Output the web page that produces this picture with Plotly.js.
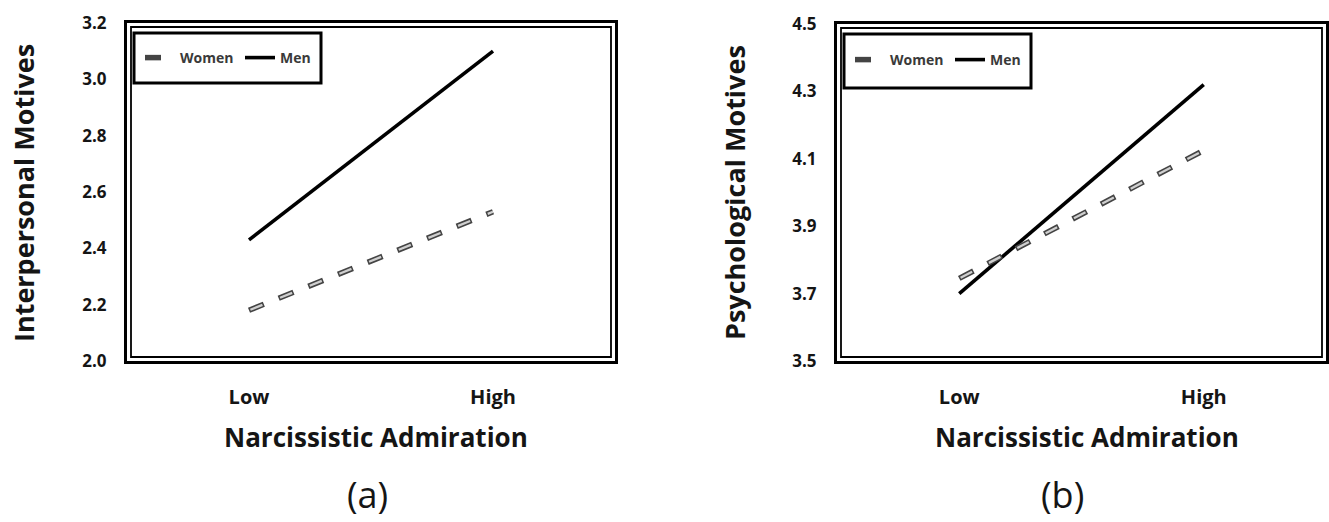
<!DOCTYPE html>
<html>
<head>
<meta charset="utf-8">
<script src="https://cdn.plot.ly/plotly-3.0.1.min.js"></script>
<style>html,body{margin:0;padding:0;background:#fff;}#chart{width:1329px;height:522px;}</style>
</head>
<body>
<div id="chart"></div>
<script>
// ---- data ----
const levels = ["Low", "High"];
const interpersonalWomen = [2.18, 2.53];
const interpersonalMen = [2.43, 3.10];
const psychologicalWomen = [3.745, 4.125];
const psychologicalMen = [3.70, 4.32];
const seriesNames = ["Women", "Men"];
const yTitles = ["Interpersonal Motives", "Psychological Motives"];
const xTitle = "Narcissistic Admiration";
const panelLabels = ["(a)", "(b)"];

// ---- helpers ----
const W = 1329, H = 522;
const px = x => x / W;
const py = y => 1 - y / H;
const FONT = "'Open Sans', Lato, sans-serif";
const TXT = "#151515";

function menTrace(y, xa, ya, lg) {
  return {x: levels, y: y, xaxis: xa, yaxis: ya, legend: lg, name: seriesNames[1], legendrank: 2,
    type: "scatter", mode: "lines", line: {color: "#000", width: 3.6}, hoverinfo: "skip"};
}
function womenOutline(y, xa, ya, lg) {
  return {x: levels, y: y, xaxis: xa, yaxis: ya, legend: lg, name: seriesNames[0], legendrank: 1,
    type: "scatter", mode: "lines", line: {color: "#444", width: 5.5, dash: "16px,16px"}, hoverinfo: "skip"};
}
function womenFill(y, xa, ya, lg) {
  return {x: levels, y: y, xaxis: xa, yaxis: ya, legend: lg, name: seriesNames[0], showlegend: false,
    type: "scatter", mode: "lines", line: {color: "#cfcfcf", width: 2.3, dash: "0px,1.5px,13px,17.5px"}, hoverinfo: "skip"};
}

const data = [
  menTrace(interpersonalMen, "x", "y", "legend"),
  womenOutline(interpersonalWomen, "x", "y", "legend"),
  womenFill(interpersonalWomen, "x", "y", "legend"),
  menTrace(psychologicalMen, "x2", "y2", "legend2"),
  womenOutline(psychologicalWomen, "x2", "y2", "legend2"),
  womenFill(psychologicalWomen, "x2", "y2", "legend2")
];

function xAxis(domain, anchor) {
  return {domain: domain, anchor: anchor, type: "category", range: [-0.5, 1.5], showgrid: false, zeroline: false,
    showline: true, mirror: true, linecolor: "#000", linewidth: 3, ticks: "", ticklabelstandoff: 16,
    tickfont: {family: FONT, size: 20, color: TXT, weight: "bold"}, fixedrange: true};
}
function yAxis(domain, range, anchor) {
  return {domain: domain, anchor: anchor, range: range, tick0: range[0], dtick: 0.2, tickformat: ".1f", showgrid: false,
    zeroline: false, showline: true, mirror: true, linecolor: "#000", linewidth: 3, ticks: "",
    ticklabelstandoff: 14, tickfont: {family: FONT, size: 17, color: TXT, weight: "bold"}, fixedrange: true};
}

function legendCfg(x, y) {
  return {x: px(x), y: py(y), xanchor: "left", yanchor: "middle", orientation: "h",
    bgcolor: "rgba(0,0,0,0)", borderwidth: 0, entrywidth: 55, entrywidthmode: "pixels",
    font: {family: FONT, size: 14, color: "#3a3a3a", weight: "bold"}, itemclick: false, itemdoubleclick: false};
}

function ann(text, x, y, size, bold, angle) {
  return {text: text, xref: "paper", yref: "paper", x: px(x), y: py(y), xanchor: "center", yanchor: "middle",
    showarrow: false, textangle: angle || 0,
    font: {family: FONT, size: size, color: TXT, weight: bold ? "bold" : "normal"}};
}

// plot frames (px) : [left, right, top, bottom]
const frames = [[127, 615, 23, 361], [837, 1326, 24, 361]];
const inset = 4;

const layout = {
  width: W, height: H, margin: {l: 0, r: 0, t: 0, b: 0},
  paper_bgcolor: "#fff", plot_bgcolor: "#fff",
  showlegend: true,
  xaxis: xAxis([px(frames[0][0]), px(frames[0][1])], "y"),
  yaxis: yAxis([py(frames[0][3]), py(frames[0][2])], [2.0, 3.2], "x"),
  xaxis2: xAxis([px(frames[1][0]), px(frames[1][1])], "y2"),
  yaxis2: yAxis([py(frames[1][3]), py(frames[1][2])], [3.5, 4.5], "x2"),
  legend: legendCfg(140, 58),
  legend2: legendCfg(850, 60),
  shapes: [
    {type: "rect", xref: "paper", yref: "paper", x0: px(134), x1: px(321), y0: py(33), y1: py(83), line: {color: "#000", width: 3}},
    {type: "rect", xref: "paper", yref: "paper", x0: px(844), x1: px(1031), y0: py(34), y1: py(88), line: {color: "#000", width: 3}}
  ].concat(frames.map(f => ({type: "rect", xref: "paper", yref: "paper",
    x0: px(f[0] + inset), x1: px(f[1] - inset), y0: py(f[3] - inset), y1: py(f[2] + inset),
    line: {color: "#000", width: 1.8}, layer: "below"}))),
  annotations: [
    ann(xTitle, 376, 437, 26, true),
    ann(xTitle, 1087, 437, 26, true),
    ann(yTitles[0], 23, 193, 27, true, -90),
    ann(yTitles[1], 734, 193, 27, true, -90),
    ann(panelLabels[0], 367, 494, 36, false),
    ann(panelLabels[1], 1062, 494, 36, false)
  ]
};

Plotly.newPlot("chart", data, layout, {staticPlot: true, displayModeBar: false});
</script>
</body>
</html>
